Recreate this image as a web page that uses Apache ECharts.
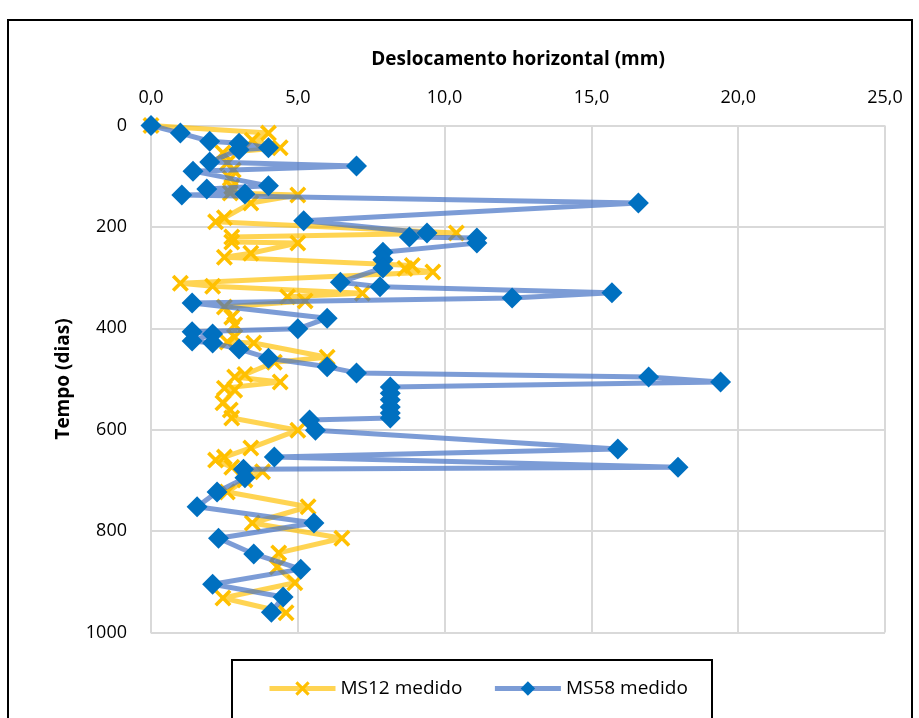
<!DOCTYPE html>
<html>
<head>
<meta charset="utf-8">
<script src="https://cdn.jsdelivr.net/npm/echarts@6/dist/echarts.min.js"></script>
<style>html,body{margin:0;padding:0;background:#fff}#c{width:919px;height:718px}</style>
</head>
<body>
<div id="c"></div>
<script>
// MS12 medido: horizontal displacement (mm) and time (days)
var ms12X = [0, 4.0, 3.45, 4.4, 2.45, 2.6, 2.8, 2.7, 2.75, 2.7, 5.0, 3.4, 2.5, 2.2, 10.4, 2.75, 2.75, 5.0, 3.4, 2.5, 8.9, 8.65, 9.6, 1.0, 2.1, 7.2, 4.65, 5.25, 2.5, 2.75, 2.85, 2.85, 2.6, 3.5, 6.0, 4.2, 3.2, 2.85, 4.4, 2.5, 2.85, 2.45, 2.7, 2.75, 5.0, 3.4, 2.5, 2.2, 2.75, 3.8, 3.2, 2.6, 5.35, 3.45, 6.5, 4.35, 4.3, 4.9, 2.45, 4.6];
var ms12T = [0, 15, 29, 44, 54, 74, 88, 104, 121, 133, 137, 153, 182, 190, 212, 220, 230, 232, 252, 260, 276, 282, 289, 311, 317, 331, 338, 346, 358, 378, 393, 417, 427, 429, 457, 467, 491, 496, 506, 518, 522, 547, 561, 577, 601, 636, 654, 660, 674, 683, 699, 723, 752, 784, 814, 843, 871, 902, 932, 961];
// MS58 medido
var ms58X = [0, 1.0, 2.0, 3.0, 4.0, 3.0, 2.0, 7.0, 1.43, 4.0, 1.9, 3.2, 1.05, 16.6, 5.2, 9.4, 8.8, 11.1, 11.1, 7.9, 7.9, 7.9, 6.45, 7.8, 15.7, 12.3, 1.4, 6.0, 5.0, 1.4, 2.1, 1.4, 2.1, 3.0, 4.0, 6.0, 7.0, 16.95, 19.4, 8.15, 8.15, 8.15, 8.15, 8.15, 8.15, 5.4, 5.6, 15.9, 4.2, 17.95, 3.15, 3.2, 2.25, 1.57, 5.55, 2.3, 3.5, 5.1, 2.1, 4.5, 4.1];
var ms58T = [0, 15, 31, 35, 44, 48, 72, 80, 90, 119, 125, 135, 137, 153, 188, 212, 220, 222, 232, 250, 265, 281, 309, 318, 330, 340, 350, 380, 401, 407, 411, 425, 429, 441, 459, 476, 488, 496, 506, 516, 528, 541, 555, 567, 577, 581, 601, 638, 654, 674, 678, 695, 723, 752, 784, 814, 845, 875, 905, 930, 960];
var xTicks = [0, 5, 10, 15, 20, 25];
var yTicks = [0, 200, 400, 600, 800, 1000];

function pairs(xs, ts) { return xs.map(function (v, i) { return [v, ts[i]]; }); }

var FONT = 'Open Sans';
var crossPath = 'path://M0,1.5L1.5,0L5,3.5L8.5,0L10,1.5L6.5,5L10,8.5L8.5,10L5,6.5L1.5,10L0,8.5L3.5,5Z';

var chart = echarts.init(document.getElementById('c'), null, {renderer: 'canvas'});
chart.setOption({
  animation: false,
  backgroundColor: '#ffffff',
  textStyle: {fontFamily: FONT},
  graphic: [
    {type: 'rect', shape: {x: 8, y: 20, width: 904, height: 720}, style: {fill: 'none', stroke: '#000', lineWidth: 2}, silent: true, z: -1},
    {type: 'rect', shape: {x: 232, y: 660, width: 480, height: 80}, style: {fill: '#fff', stroke: '#000', lineWidth: 2}, silent: true, z: 0}
  ],
  grid: {left: 151, right: 34, top: 125.5, bottom: 85.5, containLabel: false},
  xAxis: {
    type: 'value', position: 'top', min: xTicks[0], max: xTicks[xTicks.length - 1], interval: 5,
    name: 'Deslocamento horizontal (mm)', nameLocation: 'middle', nameGap: 56,
    nameTextStyle: {fontFamily: FONT, fontWeight: 'bold', fontSize: 19, color: '#000'},
    axisLine: {show: false}, axisTick: {show: false},
    axisLabel: {fontFamily: FONT, fontSize: 18, color: '#000', margin: 19,
      formatter: function (v) { return v.toFixed(1).replace('.', ','); }},
    splitLine: {show: true, lineStyle: {color: '#d9d9d9', width: 2}}
  },
  yAxis: {
    type: 'value', inverse: true, min: yTicks[0], max: yTicks[yTicks.length - 1], interval: 200,
    name: 'Tempo (dias)', nameLocation: 'middle', nameGap: 78, nameRotate: 90,
    nameTextStyle: {fontFamily: FONT, fontWeight: 'bold', fontSize: 19, color: '#000'},
    axisLine: {show: true, lineStyle: {color: '#d9d9d9', width: 2}}, axisTick: {show: false},
    axisLabel: {fontFamily: FONT, fontSize: 18, color: '#000', margin: 24,
      formatter: function (v) { return String(v); }},
    splitLine: {show: true, lineStyle: {color: '#d9d9d9', width: 2}}
  },
  legend: {
    left: 262, top: 674, itemWidth: 66, itemHeight: 18, itemGap: 30,
    lineStyle: {width: 5},
    textStyle: {fontFamily: FONT, fontSize: 19, color: '#000'},
    data: ['MS12 medido', 'MS58 medido'], z: 5
  },
  series: [
    {
      name: 'MS12 medido', type: 'line', data: pairs(ms12X, ms12T),
      symbol: crossPath, symbolSize: 17, showSymbol: true,
      lineStyle: {color: 'rgba(255,192,0,0.68)', width: 5},
      itemStyle: {color: '#FFC000'}, z: 2
    },
    {
      name: 'MS58 medido', type: 'line', data: pairs(ms58X, ms58T),
      symbol: 'diamond', symbolSize: 21, showSymbol: true,
      lineStyle: {color: 'rgba(68,114,196,0.7)', width: 5},
      itemStyle: {color: '#0070C0'}, z: 3
    }
  ]
});
</script>
</body>
</html>
